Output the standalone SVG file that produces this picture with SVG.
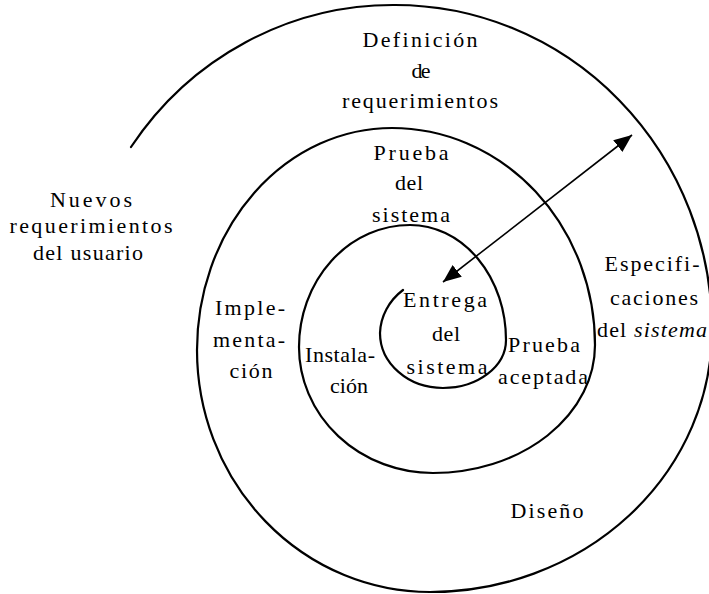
<svg xmlns="http://www.w3.org/2000/svg" width="709" height="594" viewBox="0 0 709 594">
<style>
  .lbl { font-family: "Liberation Serif", "Times New Roman", serif; font-size: 22px; fill: #000; text-anchor: middle; }
  .it { font-style: italic; }
  .spiral { fill: none; stroke: #000; stroke-width: 2.2; stroke-linecap: round; stroke-linejoin: round; }
  .arrow { fill: none; stroke: #000; stroke-width: 1.6; }
</style>
<defs>
  <marker id="tri" markerUnits="userSpaceOnUse" markerWidth="20" markerHeight="16" refX="18" refY="7.5" orient="auto-start-reverse">
    <path d="M0,0 L18,7.5 L0,15 z" fill="#000"/>
  </marker>
</defs>
<rect width="709" height="594" fill="#fff"/>
<g id="spiral">
  <path class="spiral" d="M131,147 A317,325 0 0 1 395,5 A317,325 0 0 1 712,330 A282,262 0 0 1 430,592 A233,242 0 0 1 197,350 A195,222 0 0 1 392,128 A203,217 0 0 1 595,345 A162,128 0 0 1 433,473 A134,126 0 0 1 299,347 A111,122 0 0 1 410,225 A96,115 0 0 1 506,340 A63,48 0 0 1 443,388 A63,55 0 0 1 380,333 A63,58 0 0 1 403,290"/>
</g>
<g id="connectors">
  <line class="arrow" x1="443" y1="282" x2="632" y2="135" marker-start="url(#tri)" marker-end="url(#tri)"/>
</g>
<g id="definicion">
  <text class="lbl" x="420" y="47" textLength="115" lengthAdjust="spacing">Definición</text>
  <text class="lbl" x="421" y="78" textLength="19" lengthAdjust="spacing">de</text>
  <text class="lbl" x="420" y="108" textLength="156" lengthAdjust="spacing">requerimientos</text>
</g>
<g id="nuevos">
  <text class="lbl" x="91" y="207" textLength="82" lengthAdjust="spacing">Nuevos</text>
  <text class="lbl" x="91" y="233" textLength="163" lengthAdjust="spacing">requerimientos</text>
  <text class="lbl" x="88" y="260" textLength="110" lengthAdjust="spacing">del usuario</text>
</g>
<g id="prueba-sistema">
  <text class="lbl" x="411" y="160" textLength="75" lengthAdjust="spacing">Prueba</text>
  <text class="lbl" x="409" y="190" textLength="28" lengthAdjust="spacing">del</text>
  <text class="lbl" x="411" y="222" textLength="78" lengthAdjust="spacing">sistema</text>
</g>
<g id="especificaciones">
  <text class="lbl" x="652" y="271" textLength="95" lengthAdjust="spacing">Especifi-</text>
  <text class="lbl" x="654" y="305" textLength="88" lengthAdjust="spacing">caciones</text>
  <text class="lbl" x="652" y="337" textLength="110" lengthAdjust="spacing">del <tspan class="it">sistema</tspan></text>
</g>
<g id="implementacion">
  <text class="lbl" x="250" y="315" textLength="70" lengthAdjust="spacing">Imple-</text>
  <text class="lbl" x="249" y="347" textLength="72" lengthAdjust="spacing">menta-</text>
  <text class="lbl" x="251" y="378" textLength="43" lengthAdjust="spacing">ción</text>
</g>
<g id="instalacion">
  <text class="lbl" x="340" y="362" textLength="70" lengthAdjust="spacing">Instala-</text>
  <text class="lbl" x="349" y="393" textLength="38" lengthAdjust="spacing">ción</text>
</g>
<g id="entrega">
  <text class="lbl" x="445" y="307" textLength="84" lengthAdjust="spacing">Entrega</text>
  <text class="lbl" x="446" y="341" textLength="28" lengthAdjust="spacing">del</text>
  <text class="lbl" x="447" y="374" textLength="81" lengthAdjust="spacing">sistema</text>
</g>
<g id="prueba-aceptada">
  <text class="lbl" x="544" y="352" textLength="72" lengthAdjust="spacing">Prueba</text>
  <text class="lbl" x="543" y="384" textLength="90" lengthAdjust="spacing">aceptada</text>
</g>
<g id="diseno">
  <text class="lbl" x="547" y="518" textLength="73" lengthAdjust="spacing">Diseño</text>
</g>
</svg>
